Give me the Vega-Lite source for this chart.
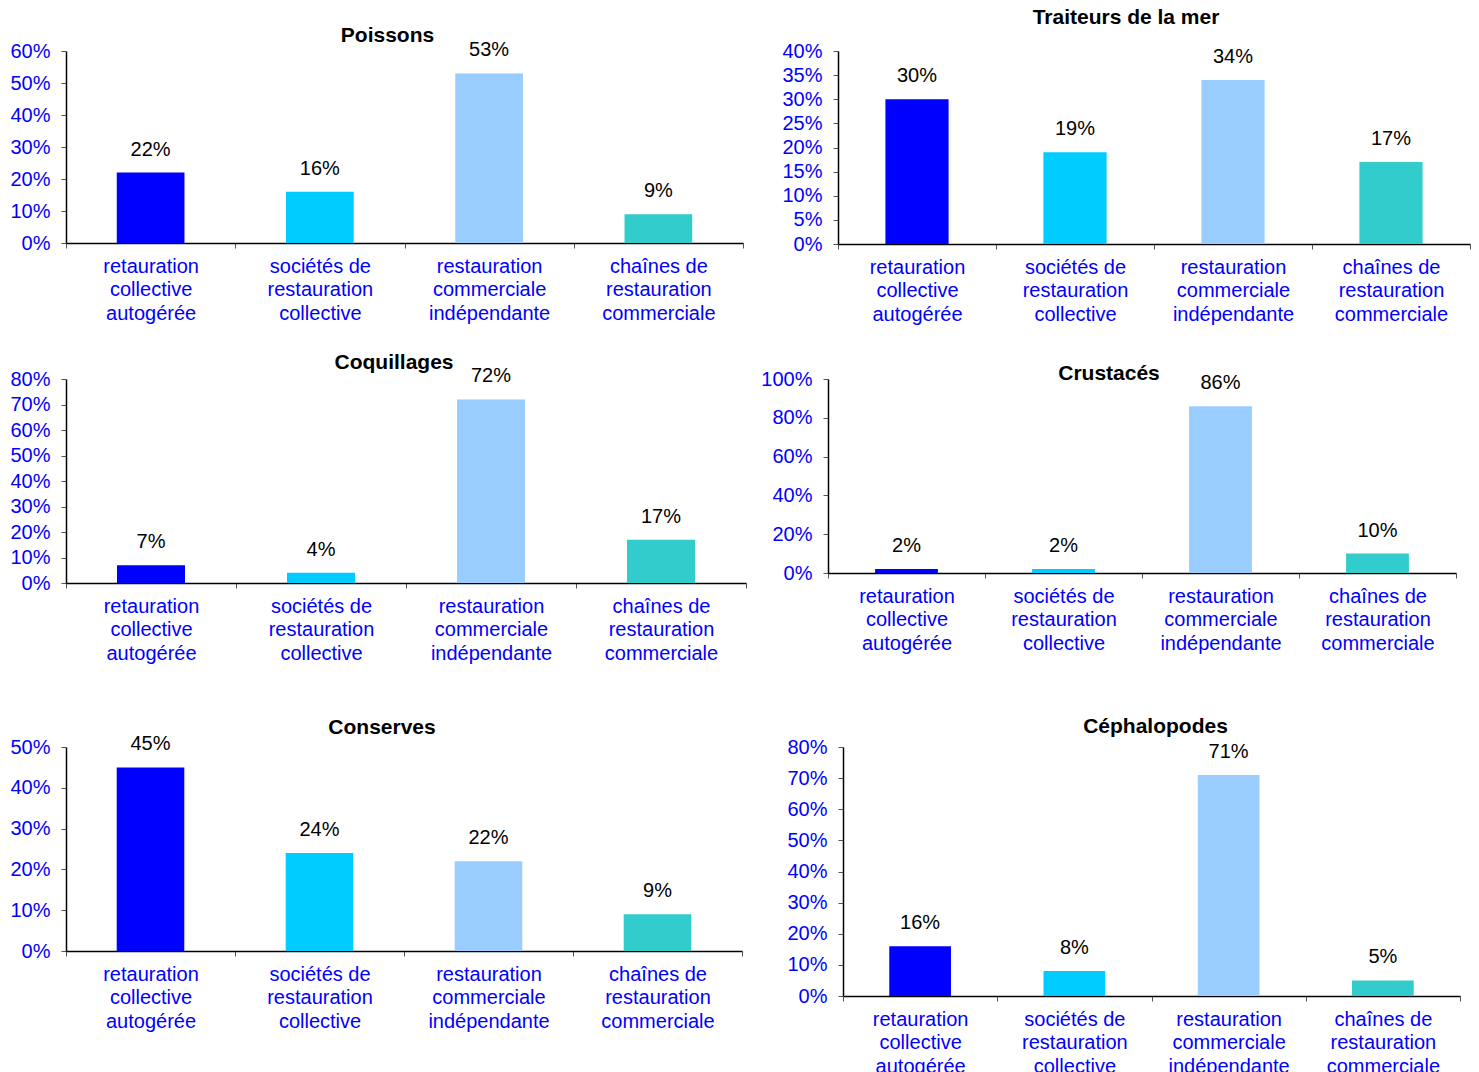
{
  "$schema": "https://vega.github.io/schema/vega-lite/v6.json",
  "background": "white",
  "padding": {"left": 8, "top": 7, "right": 0, "bottom": 0},
  "data": {"values": [
    {"p": "Poissons", "c": "retauration|collective|autogérée", "v": 0.22},
    {"p": "Poissons", "c": "sociétés de|restauration|collective", "v": 0.16},
    {"p": "Poissons", "c": "restauration|commerciale|indépendante", "v": 0.53},
    {"p": "Poissons", "c": "chaînes de|restauration|commerciale", "v": 0.09},
    {"p": "Traiteurs de la mer", "c": "retauration|collective|autogérée", "v": 0.30},
    {"p": "Traiteurs de la mer", "c": "sociétés de|restauration|collective", "v": 0.19},
    {"p": "Traiteurs de la mer", "c": "restauration|commerciale|indépendante", "v": 0.34},
    {"p": "Traiteurs de la mer", "c": "chaînes de|restauration|commerciale", "v": 0.17},
    {"p": "Coquillages", "c": "retauration|collective|autogérée", "v": 0.07},
    {"p": "Coquillages", "c": "sociétés de|restauration|collective", "v": 0.04},
    {"p": "Coquillages", "c": "restauration|commerciale|indépendante", "v": 0.72},
    {"p": "Coquillages", "c": "chaînes de|restauration|commerciale", "v": 0.17},
    {"p": "Crustacés", "c": "retauration|collective|autogérée", "v": 0.02},
    {"p": "Crustacés", "c": "sociétés de|restauration|collective", "v": 0.02},
    {"p": "Crustacés", "c": "restauration|commerciale|indépendante", "v": 0.86},
    {"p": "Crustacés", "c": "chaînes de|restauration|commerciale", "v": 0.10},
    {"p": "Conserves", "c": "retauration|collective|autogérée", "v": 0.45},
    {"p": "Conserves", "c": "sociétés de|restauration|collective", "v": 0.24},
    {"p": "Conserves", "c": "restauration|commerciale|indépendante", "v": 0.22},
    {"p": "Conserves", "c": "chaînes de|restauration|commerciale", "v": 0.09},
    {"p": "Céphalopodes", "c": "retauration|collective|autogérée", "v": 0.16},
    {"p": "Céphalopodes", "c": "sociétés de|restauration|collective", "v": 0.08},
    {"p": "Céphalopodes", "c": "restauration|commerciale|indépendante", "v": 0.71},
    {"p": "Céphalopodes", "c": "chaînes de|restauration|commerciale", "v": 0.05}
  ]},
  "vconcat": [
    {
      "hconcat": [
        {
          "title": {"text": "Poissons", "dx": -17, "offset": -6},
          "width": 677, "height": 192,
          "transform": [{"filter": "datum.p === 'Poissons'"}],
          "encoding": {
            "x": {"field": "c", "type": "nominal", "sort": null, "scale": {"paddingInner": 0, "paddingOuter": 0}, "axis": {"labelExpr": "split(datum.label, '|')"}},
            "y": {"field": "v", "type": "quantitative", "scale": {"domain": [0, 0.6], "nice": false}, "axis": {"values": [0, 0.1, 0.2, 0.3, 0.4, 0.5, 0.6], "format": ".0%", "minExtent": 58}}
          },
          "layer": [
            {"mark": {"type": "bar", "width": {"band": 0.4}}, "encoding": {"color": {"field": "c", "type": "nominal", "sort": null, "scale": {"domain": ["retauration|collective|autogérée", "sociétés de|restauration|collective", "restauration|commerciale|indépendante", "chaînes de|restauration|commerciale"], "range": ["#0000FF", "#00CCFF", "#99CCFF", "#33CCCC"]}, "legend": null}}},
            {"mark": {"type": "text", "baseline": "middle", "dy": -23}, "encoding": {"text": {"field": "v", "type": "quantitative", "format": ".0%"}}}
          ]
        },
        {
          "title": {"text": "Traiteurs de la mer", "dx": -28, "offset": 13},
          "width": 632, "height": 193,
          "transform": [{"filter": "datum.p === 'Traiteurs de la mer'"}],
          "encoding": {
            "x": {"field": "c", "type": "nominal", "sort": null, "scale": {"paddingInner": 0, "paddingOuter": 0}, "axis": {"labelExpr": "split(datum.label, '|')"}},
            "y": {"field": "v", "type": "quantitative", "scale": {"domain": [0, 0.4], "nice": false}, "axis": {"values": [0, 0.05, 0.1, 0.15, 0.2, 0.25, 0.3, 0.35, 0.4], "format": ".0%"}}
          },
          "layer": [
            {"mark": {"type": "bar", "width": {"band": 0.4}}, "encoding": {"color": {"field": "c", "type": "nominal", "sort": null, "scale": {"domain": ["retauration|collective|autogérée", "sociétés de|restauration|collective", "restauration|commerciale|indépendante", "chaînes de|restauration|commerciale"], "range": ["#0000FF", "#00CCFF", "#99CCFF", "#33CCCC"]}, "legend": null}}},
            {"mark": {"type": "text", "baseline": "middle", "dy": -23}, "encoding": {"text": {"field": "v", "type": "quantitative", "format": ".0%"}}}
          ]
        }
      ],
      "bounds": "flush",
      "spacing": 95
    },
    {
      "hconcat": [
        {
          "title": {"text": "Coquillages", "dx": -12, "offset": -7},
          "width": 680, "height": 204,
          "transform": [{"filter": "datum.p === 'Coquillages'"}],
          "encoding": {
            "x": {"field": "c", "type": "nominal", "sort": null, "scale": {"paddingInner": 0, "paddingOuter": 0}, "axis": {"labelExpr": "split(datum.label, '|')", "minExtent": 105}},
            "y": {"field": "v", "type": "quantitative", "scale": {"domain": [0, 0.8], "nice": false}, "axis": {"values": [0, 0.1, 0.2, 0.3, 0.4, 0.5, 0.6, 0.7, 0.8], "format": ".0%", "minExtent": 58}}
          },
          "layer": [
            {"mark": {"type": "bar", "width": {"band": 0.4}}, "encoding": {"color": {"field": "c", "type": "nominal", "sort": null, "scale": {"domain": ["retauration|collective|autogérée", "sociétés de|restauration|collective", "restauration|commerciale|indépendante", "chaînes de|restauration|commerciale"], "range": ["#0000FF", "#00CCFF", "#99CCFF", "#33CCCC"]}, "legend": null}}},
            {"mark": {"type": "text", "baseline": "middle", "dy": -23}, "encoding": {"text": {"field": "v", "type": "quantitative", "format": ".0%"}}}
          ]
        },
        {
          "title": {"text": "Crustacés", "dx": -33, "offset": -15},
          "width": 628, "height": 194,
          "transform": [{"filter": "datum.p === 'Crustacés'"}],
          "encoding": {
            "x": {"field": "c", "type": "nominal", "sort": null, "scale": {"paddingInner": 0, "paddingOuter": 0}, "axis": {"labelExpr": "split(datum.label, '|')"}},
            "y": {"field": "v", "type": "quantitative", "scale": {"domain": [0, 1], "nice": false}, "axis": {"values": [0, 0.2, 0.4, 0.6, 0.8, 1], "format": ".0%"}}
          },
          "layer": [
            {"mark": {"type": "bar", "width": {"band": 0.4}}, "encoding": {"color": {"field": "c", "type": "nominal", "sort": null, "scale": {"domain": ["retauration|collective|autogérée", "sociétés de|restauration|collective", "restauration|commerciale|indépendante", "chaînes de|restauration|commerciale"], "range": ["#0000FF", "#00CCFF", "#99CCFF", "#33CCCC"]}, "legend": null}}},
            {"mark": {"type": "text", "baseline": "middle", "dy": -23}, "encoding": {"text": {"field": "v", "type": "quantitative", "format": ".0%"}}}
          ]
        }
      ],
      "bounds": "flush",
      "spacing": 82
    },
    {
      "hconcat": [
        {
          "title": {"text": "Conserves", "dx": -22, "offset": -4},
          "width": 676, "height": 204,
          "transform": [{"filter": "datum.p === 'Conserves'"}],
          "encoding": {
            "x": {"field": "c", "type": "nominal", "sort": null, "scale": {"paddingInner": 0, "paddingOuter": 0}, "axis": {"labelExpr": "split(datum.label, '|')"}},
            "y": {"field": "v", "type": "quantitative", "scale": {"domain": [0, 0.5], "nice": false}, "axis": {"values": [0, 0.1, 0.2, 0.3, 0.4, 0.5], "format": ".0%", "minExtent": 58}}
          },
          "layer": [
            {"mark": {"type": "bar", "width": {"band": 0.4}}, "encoding": {"color": {"field": "c", "type": "nominal", "sort": null, "scale": {"domain": ["retauration|collective|autogérée", "sociétés de|restauration|collective", "restauration|commerciale|indépendante", "chaînes de|restauration|commerciale"], "range": ["#0000FF", "#00CCFF", "#99CCFF", "#33CCCC"]}, "legend": null}}},
            {"mark": {"type": "text", "baseline": "middle", "dy": -23}, "encoding": {"text": {"field": "v", "type": "quantitative", "format": ".0%"}}}
          ]
        },
        {
          "title": {"text": "Céphalopodes", "dx": 4, "offset": 0},
          "width": 617, "height": 249,
          "transform": [{"filter": "datum.p === 'Céphalopodes'"}],
          "encoding": {
            "x": {"field": "c", "type": "nominal", "sort": null, "scale": {"paddingInner": 0, "paddingOuter": 0}, "axis": {"labelExpr": "split(datum.label, '|')"}},
            "y": {"field": "v", "type": "quantitative", "scale": {"domain": [0, 0.8], "nice": false}, "axis": {"values": [0, 0.1, 0.2, 0.3, 0.4, 0.5, 0.6, 0.7, 0.8], "format": ".0%"}}
          },
          "layer": [
            {"mark": {"type": "bar", "width": {"band": 0.4}}, "encoding": {"color": {"field": "c", "type": "nominal", "sort": null, "scale": {"domain": ["retauration|collective|autogérée", "sociétés de|restauration|collective", "restauration|commerciale|indépendante", "chaînes de|restauration|commerciale"], "range": ["#0000FF", "#00CCFF", "#99CCFF", "#33CCCC"]}, "legend": null}}},
            {"mark": {"type": "text", "baseline": "middle", "dy": -23}, "encoding": {"text": {"field": "v", "type": "quantitative", "format": ".0%"}}}
          ]
        }
      ],
      "bounds": "flush",
      "spacing": 101
    }
  ],
  "spacing": 28,
  "config": {
    "view": {"stroke": null},
    "font": "Liberation Sans",
    "axis": {"labelFont": "Liberation Sans", "labelFontSize": 20, "labelColor": "#0000FF", "domainColor": "#000000", "domainWidth": 1.5, "tickColor": "#555555", "tickSize": 5, "grid": false, "title": null},
    "axisX": {"labelAngle": 0, "tickBand": "extent", "labelPadding": 8, "labelLineHeight": 23.5},
    "axisY": {"labelPadding": 11},
    "title": {"font": "Liberation Sans", "fontSize": 21, "fontWeight": "bold", "color": "#000000", "anchor": "middle", "frame": "group", "baseline": "alphabetic"},
    "text": {"font": "Liberation Sans", "fontSize": 20, "color": "#000000"}
  }
}
